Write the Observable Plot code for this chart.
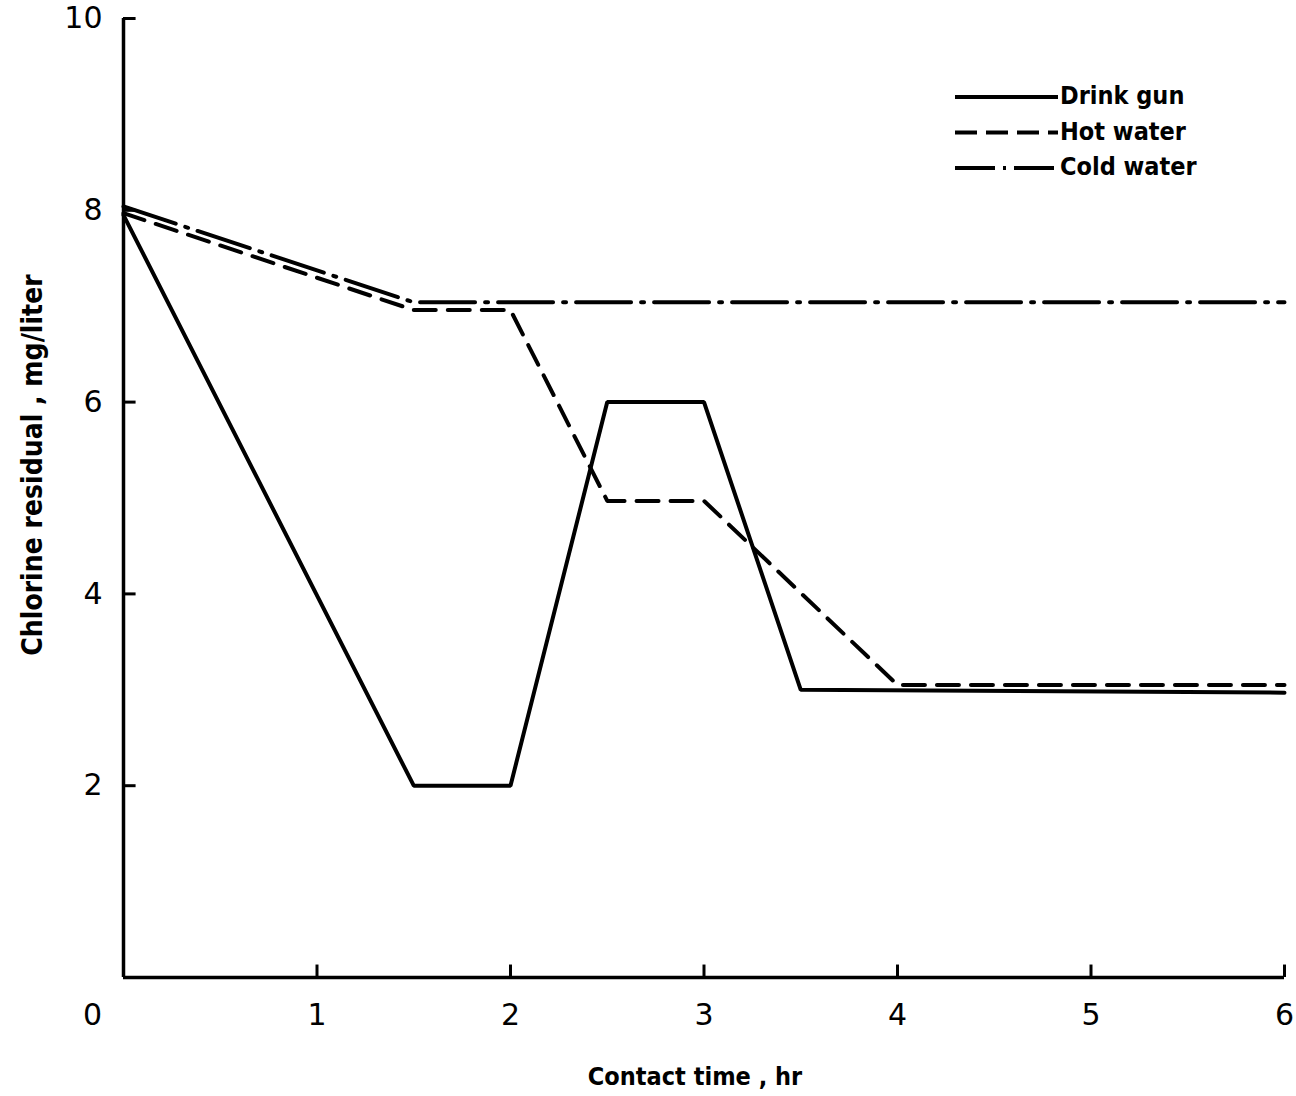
<!DOCTYPE html>
<html>
<head>
<meta charset="utf-8">
<script src="https://cdn.jsdelivr.net/npm/d3@7"></script>
<script src="https://cdn.jsdelivr.net/npm/@observablehq/plot@0.6"></script>
<style>
  html, body { margin: 0; padding: 0; background: #fff; }
  #chart svg { display: block; }
</style>
</head>
<body>
<div id="chart"></div>
<script>
// Contact time (hr)
const drinkGunTime  = [0, 1.5, 2, 2.5, 3, 3.5, 6];
const drinkGunValue = [7.95, 2.0, 2.0, 6.0, 6.0, 3.0, 2.97];

const hotWaterTime  = [0, 1.5, 2, 2.5, 3, 4, 6];
const hotWaterValue = [7.97, 6.96, 6.96, 4.97, 4.97, 3.05, 3.05];

const coldWaterTime  = [0, 1.5, 6];
const coldWaterValue = [8.04, 7.04, 7.04];

const seriesNames = ["Drink gun", "Hot water", "Cold water"];
const seriesDash = [null, "22,12", "55,10,3,10"];
const legendDash = [null, "22,9", "40,8,3,8"];

const xTickValues = [1, 2, 3, 4, 5, 6];
const yTickValues = [2, 4, 6, 8, 10];

const xLabel = "Contact time , hr";
const yLabel = "Chlorine residual , mg/liter";

const toRows = (t, v) => t.map((x, i) => ({x, y: v[i]}));
const drink = toRows(drinkGunTime, drinkGunValue);
const hot = toRows(hotWaterTime, hotWaterValue);
const cold = toRows(coldWaterTime, coldWaterValue);

const tickFont = "DejaVu Sans, sans-serif";
const labelFont = "'DejaVu Sans Condensed', 'DejaVu Sans', sans-serif";

const chart = Plot.plot({
  width: 1296,
  height: 1096,
  marginLeft: 123,
  marginRight: 12,
  marginTop: 18,
  marginBottom: 119,
  style: {background: "#fff", color: "#000", fontFamily: tickFont},
  x: {domain: [0, 6]},
  y: {domain: [0, 10]},
  marks: [
    // axis lines
    Plot.ruleX([0], {stroke: "#000", strokeWidth: 3.5}),
    Plot.ruleY([0], {stroke: "#000", strokeWidth: 3.5}),
    // inward ticks
    Plot.ruleX(xTickValues, {x: d => d, y1: 0, y2: 0.13, stroke: "#000", strokeWidth: 3}),
    Plot.ruleY(yTickValues, {y: d => d, x1: 0, x2: 0.065, stroke: "#000", strokeWidth: 3}),
    // tick labels
    Plot.axisX(xTickValues, {tickSize: 0, tickPadding: 26, fontSize: 30, fontFamily: tickFont, tickFormat: "d", label: null}),
    Plot.axisY(yTickValues, {tickSize: 0, tickPadding: 21, fontSize: 30, fontFamily: tickFont, tickFormat: "d", label: null}),
    Plot.text([0], {x: 0, y: 0, text: d => String(d), dx: -31, dy: 38, fontSize: 30, fontFamily: tickFont, fill: "#000"}),
    // series
    Plot.line(cold, {x: "x", y: "y", stroke: "#000", strokeWidth: 4, strokeDasharray: seriesDash[2]}),
    Plot.line(hot, {x: "x", y: "y", stroke: "#000", strokeWidth: 4, strokeDasharray: seriesDash[1]}),
    Plot.line(drink, {x: "x", y: "y", stroke: "#000", strokeWidth: 4, strokeLinejoin: "miter"})
  ]
});

const svg = d3.select(chart);

// axis titles
svg.append("text")
  .attr("x", 695).attr("y", 1078)
  .attr("text-anchor", "middle").attr("dominant-baseline", "middle")
  .attr("font-family", labelFont).attr("font-weight", "bold").attr("font-size", 25)
  .attr("fill", "#000")
  .text(xLabel);

svg.append("text")
  .attr("transform", "translate(34,465) rotate(-90)")
  .attr("text-anchor", "middle").attr("dominant-baseline", "middle")
  .attr("font-family", labelFont).attr("font-weight", "bold").attr("font-size", 28)
  .attr("fill", "#000")
  .text(yLabel);

// legend
const legend = svg.append("g");
seriesNames.forEach((name, i) => {
  const y = 97 + i * 35.5;
  const ln = legend.append("line")
    .attr("x1", 955).attr("x2", 1058).attr("y1", y).attr("y2", y)
    .attr("stroke", "#000").attr("stroke-width", 4);
  if (legendDash[i]) ln.attr("stroke-dasharray", legendDash[i]);
  legend.append("text")
    .attr("x", 1060).attr("y", y)
    .attr("text-anchor", "start").attr("dominant-baseline", "middle")
    .attr("font-family", labelFont).attr("font-weight", "bold").attr("font-size", 25)
    .attr("fill", "#000")
    .text(name);
});

document.getElementById("chart").appendChild(chart);
</script>
</body>
</html>
